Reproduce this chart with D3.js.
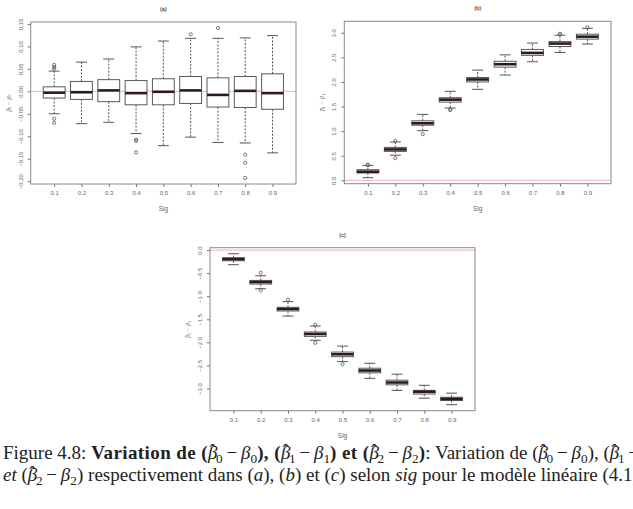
<!DOCTYPE html>
<html>
<head>
<meta charset="utf-8">
<script src="https://cdn.jsdelivr.net/npm/d3@7"></script>
<style>
  body { margin: 0; background: #fff; }
  svg { display: block; }
  .caption { font-family: 'Liberation Serif', 'DejaVu Serif', serif; fill: #222; }
  .plottext { font-family: 'Liberation Sans', 'DejaVu Sans', sans-serif; }
</style>
</head>
<body>
<div id="chart"></div>
<script>
// categories (sig)
const sigLabels = ['0.1', '0.2', '0.3', '0.4', '0.5', '0.6', '0.7', '0.8', '0.9'];

// (a) beta0_hat - beta0
const aLow  = [-0.050, -0.072, -0.069, -0.094, -0.121, -0.102, -0.114, -0.115, -0.137];
const aQ1   = [-0.015, -0.018, -0.023, -0.030, -0.030, -0.027, -0.035, -0.036, -0.040];
const aMed  = [-0.003, -0.002,  0.002, -0.004, -0.001,  0.002, -0.008,  0.001, -0.004];
const aQ3   = [ 0.010,  0.022,  0.026,  0.024,  0.028,  0.033,  0.030,  0.033,  0.039];
const aHigh = [ 0.045,  0.065,  0.072,  0.099,  0.112,  0.118,  0.118,  0.119,  0.124];
const aOut  = [[1, 0.050], [1, 0.054], [1, 0.059], [1, -0.061], [1, -0.070],
               [4, -0.108], [4, -0.110], [4, -0.136], [6, 0.127], [7, 0.141],
               [8, -0.141], [8, -0.159], [8, -0.193]];
const aTicks = [-0.20, -0.15, -0.10, -0.05, 0.00, 0.05, 0.10, 0.15];

// (b) beta1_hat - beta1
const bLow  = [0.054, 0.51, 1.01, 1.47, 1.85, 2.14, 2.41, 2.60, 2.77];
const bQ1   = [0.149, 0.588, 1.12, 1.59, 2.00, 2.30, 2.54, 2.72, 2.87];
const bMed  = [0.176, 0.628, 1.16, 1.64, 2.05, 2.36, 2.59, 2.78, 2.92];
const bQ3   = [0.216, 0.669, 1.21, 1.68, 2.09, 2.42, 2.66, 2.82, 2.97];
const bHigh = [0.30, 0.78, 1.34, 1.81, 2.24, 2.55, 2.79, 2.95, 3.09];
const bOut  = [[1, 0.31], [1, 0.32], [2, 0.80], [2, 0.45], [3, 0.94],
               [4, 1.43], [4, 1.44], [8, 2.97], [8, 2.98], [9, 3.11]];
const bTicks = [0.0, 0.5, 1.0, 1.5, 2.0, 2.5, 3.0];

// (c) beta2_hat - beta2
const cLow  = [-0.317, -0.837, -1.43, -1.955, -2.417, -2.78, -3.04, -3.21, -3.35];
const cQ1   = [-0.231, -0.736, -1.32, -1.87, -2.31, -2.66, -2.92, -3.12, -3.26];
const cMed  = [-0.195, -0.693, -1.277, -1.818, -2.258, -2.61, -2.87, -3.07, -3.225];
const cQ3   = [-0.166, -0.657, -1.24, -1.775, -2.21, -2.56, -2.82, -3.04, -3.19];
const cHigh = [-0.079, -0.556, -1.118, -1.645, -2.08, -2.453, -2.69, -2.93, -3.10];
const cOut  = [[2, -0.49], [2, -0.873], [3, -1.075], [4, -1.62], [4, -2.01], [5, -2.475]];
const cTicks = [-3.0, -2.5, -2.0, -1.5, -1.0, -0.5, 0.0];

const W = 633, H = 509;
const svg = d3.select('#chart').append('svg')
    .attr('width', W)
    .attr('height', H);

function drawPanel(cfg) {
  const {left, right, top, bottom} = cfg.frame;
  const n = sigLabels.length;

  // R style 4% expansion on both axes
  const xPad = 0.04 * n;
  const x = d3.scaleLinear().domain([0.5 - xPad, n + 0.5 + xPad]).range([left, right]);

  const all = cfg.low.concat(cfg.high, cfg.out.map(d => d[1]));
  const [lo, hi] = d3.extent(all);
  const yPad = 0.04 * (hi - lo);
  const y = d3.scaleLinear().domain([lo - yPad, hi + yPad]).range([bottom, top]);

  const g = svg.append('g').attr('class', 'plottext');
  const idx = d3.range(1, n + 1);
  const boxW = 0.8 * (x(2) - x(1));

  // reference line at zero
  g.append('line')
      .attr('x1', left).attr('x2', right)
      .attr('y1', y(0)).attr('y2', y(0))
      .attr('stroke', '#f29a9a')
      .attr('stroke-width', 0.8);

  const box = g.selectAll('g.box')
    .data(idx)
    .join('g')
      .attr('class', 'box');

  // whiskers (dashed)
  box.append('line')
      .attr('x1', i => x(i)).attr('x2', i => x(i))
      .attr('y1', i => y(cfg.q3[i - 1])).attr('y2', i => y(cfg.high[i - 1]))
      .attr('stroke', '#555').attr('stroke-dasharray', '2,1.5');
  box.append('line')
      .attr('x1', i => x(i)).attr('x2', i => x(i))
      .attr('y1', i => y(cfg.q1[i - 1])).attr('y2', i => y(cfg.low[i - 1]))
      .attr('stroke', '#555').attr('stroke-dasharray', '2,1.5');

  // whisker caps
  [cfg.high, cfg.low].forEach(arr => {
    box.append('line')
        .attr('x1', i => x(i) - boxW / 4).attr('x2', i => x(i) + boxW / 4)
        .attr('y1', i => y(arr[i - 1])).attr('y2', i => y(arr[i - 1]))
        .attr('stroke', '#555');
  });

  // boxes
  box.append('rect')
      .attr('x', i => x(i) - boxW / 2)
      .attr('width', boxW)
      .attr('y', i => y(cfg.q3[i - 1]))
      .attr('height', i => y(cfg.q1[i - 1]) - y(cfg.q3[i - 1]))
      .attr('fill', '#fff')
      .attr('stroke', '#5a5a5a')
      .attr('stroke-width', 1);

  // medians
  box.append('line')
      .attr('x1', i => x(i) - boxW / 2).attr('x2', i => x(i) + boxW / 2)
      .attr('y1', i => y(cfg.med[i - 1])).attr('y2', i => y(cfg.med[i - 1]))
      .attr('stroke', '#2e1a1c')
      .attr('stroke-width', 2.6);

  // outliers
  g.selectAll('circle.out')
    .data(cfg.out)
    .join('circle')
      .attr('class', 'out')
      .attr('cx', d => x(d[0]))
      .attr('cy', d => y(d[1]))
      .attr('r', 1.6)
      .attr('fill', 'none')
      .attr('stroke', '#555')
      .attr('stroke-width', 0.8);

  // frame
  g.append('rect')
      .attr('x', left).attr('y', top)
      .attr('width', right - left).attr('height', bottom - top)
      .attr('fill', 'none')
      .attr('stroke', '#8a8a8a')
      .attr('stroke-width', 1);

  // x axis
  const xAxis = g.append('g')
      .attr('transform', `translate(0,${bottom})`)
      .call(d3.axisBottom(x).tickValues(idx).tickFormat(i => sigLabels[i - 1]).tickSize(3).tickPadding(4));
  xAxis.attr('font-family', null);
  xAxis.select('.domain').remove();
  xAxis.selectAll('.tick line').attr('stroke', '#777');
  xAxis.selectAll('text').attr('font-size', 6).attr('fill', '#666');

  // y axis with rotated labels
  const yAxis = g.append('g')
      .attr('transform', `translate(${left},0)`)
      .call(d3.axisLeft(y).tickValues(cfg.ticks).tickFormat(d3.format(cfg.fmt)).tickSize(3));
  yAxis.attr('font-family', null);
  yAxis.select('.domain').remove();
  yAxis.selectAll('.tick line').attr('stroke', '#777');
  yAxis.selectAll('text')
      .attr('x', -10).attr('dy', 0)
      .attr('text-anchor', 'middle')
      .attr('dominant-baseline', 'central')
      .attr('transform', 'rotate(-90,-10,0)')
      .attr('font-size', 6)
      .attr('fill', '#666');

  // title
  g.append('text')
      .attr('x', (left + right) / 2).attr('y', top - 13)
      .attr('text-anchor', 'middle')
      .attr('dominant-baseline', 'central')
      .attr('font-size', 5.5).attr('font-weight', 'bold')
      .attr('fill', '#555')
      .text(cfg.title);

  // x label
  g.append('text')
      .attr('x', (left + right) / 2).attr('y', bottom + 24.5)
      .attr('text-anchor', 'middle')
      .attr('dominant-baseline', 'central')
      .attr('font-size', 6.5)
      .attr('fill', '#666')
      .text('Sig');

  // y label
  const yl = g.append('text')
      .attr('class', 'caption')
      .attr('transform', `translate(${left - 23},${(top + bottom) / 2}) rotate(-90)`)
      .attr('text-anchor', 'middle')
      .attr('dominant-baseline', 'central')
      .attr('font-size', 6.5)
      .style('fill', '#666');
  yl.append('tspan').attr('font-style', 'italic').text('\u03B2');
  yl.append('tspan').attr('dx', '-0.44em').attr('dy', -0.8).text('\u02C6');
  yl.append('tspan').attr('font-size', '0.7em').attr('dx', '0.05em').attr('dy', 2.3).text(cfg.sub);
  yl.append('tspan').attr('dy', -1.5).text(' \u2212 ');
  yl.append('tspan').attr('font-style', 'italic').text('\u03B2');
  yl.append('tspan').attr('font-size', '0.7em').attr('dy', 1.5).text(cfg.sub);
}

drawPanel({
  frame: {left: 30.7, right: 296, top: 22, bottom: 184},
  title: '(a)', sub: '0', fmt: '.2f', ticks: aTicks,
  low: aLow, q1: aQ1, med: aMed, q3: aQ3, high: aHigh, out: aOut
});
drawPanel({
  frame: {left: 344.3, right: 611, top: 21.3, bottom: 183.7},
  title: '(b)', sub: '1', fmt: '.1f', ticks: bTicks,
  low: bLow, q1: bQ1, med: bMed, q3: bQ3, high: bHigh, out: bOut
});
drawPanel({
  frame: {left: 210, right: 475, top: 247.7, bottom: 410.7},
  title: '(c)', sub: '2', fmt: '.1f', ticks: cTicks,
  low: cLow, q1: cQ1, med: cMed, q3: cQ3, high: cHigh, out: cOut
});

// caption
const capSize = 19;
function betaDiff(t, k, bold) {
  const w = bold ? 'bold' : 'normal';
  const ls = bold ? 0.4 : 0;
  t.append('tspan').attr('font-weight', w).attr('letter-spacing', ls).text('(');
  t.append('tspan').attr('font-weight', 'normal').attr('letter-spacing', 0).attr('font-style', 'italic').text('\u03B2');
  t.append('tspan').attr('font-weight', 'normal').attr('dx', '-0.42em').attr('dy', -2).text('\u02C6');
  t.append('tspan').attr('font-weight', 'normal').attr('font-size', '0.7em').attr('dx', '0.02em').attr('dy', 6).text(k);
  t.append('tspan').attr('font-weight', 'normal').attr('dy', -4).text('\u2009\u2212\u2009');
  t.append('tspan').attr('font-weight', 'normal').attr('font-style', 'italic').text('\u03B2');
  t.append('tspan').attr('font-weight', 'normal').attr('font-size', '0.7em').attr('dy', 4).text(k);
  t.append('tspan').attr('dy', -4).attr('font-weight', w).attr('letter-spacing', ls).text(')');
}

const cap1 = svg.append('text')
    .attr('class', 'caption')
    .attr('x', 3).attr('y', 459)
    .attr('font-size', capSize);
cap1.append('tspan').text('Figure 4.8: ');
cap1.append('tspan').attr('font-weight', 'bold').attr('letter-spacing', 0.4).text('Variation de ');
betaDiff(cap1, '0', true);
cap1.append('tspan').attr('font-weight', 'bold').attr('letter-spacing', 0.4).text(', ');
betaDiff(cap1, '1', true);
cap1.append('tspan').attr('font-weight', 'bold').attr('letter-spacing', 0.4).text(' et ');
betaDiff(cap1, '2', true);
cap1.append('tspan').text(': Variation de ');
betaDiff(cap1, '0', false);
cap1.append('tspan').text(', ');
betaDiff(cap1, '1', false);

const cap2 = svg.append('text')
    .attr('class', 'caption')
    .attr('x', 3).attr('y', 481)
    .attr('font-size', capSize);
cap2.append('tspan').attr('font-style', 'italic').text('et ');
betaDiff(cap2, '2', false);
cap2.append('tspan').text(' respectivement dans (');
cap2.append('tspan').attr('font-style', 'italic').text('a');
cap2.append('tspan').text('), (');
cap2.append('tspan').attr('font-style', 'italic').text('b');
cap2.append('tspan').text(') et (');
cap2.append('tspan').attr('font-style', 'italic').text('c');
cap2.append('tspan').text(') selon ');
cap2.append('tspan').attr('font-style', 'italic').text('sig');
cap2.append('tspan').text(' pour le mod\u00E8le lin\u00E9aire (4.1)');
</script>
</body>
</html>
